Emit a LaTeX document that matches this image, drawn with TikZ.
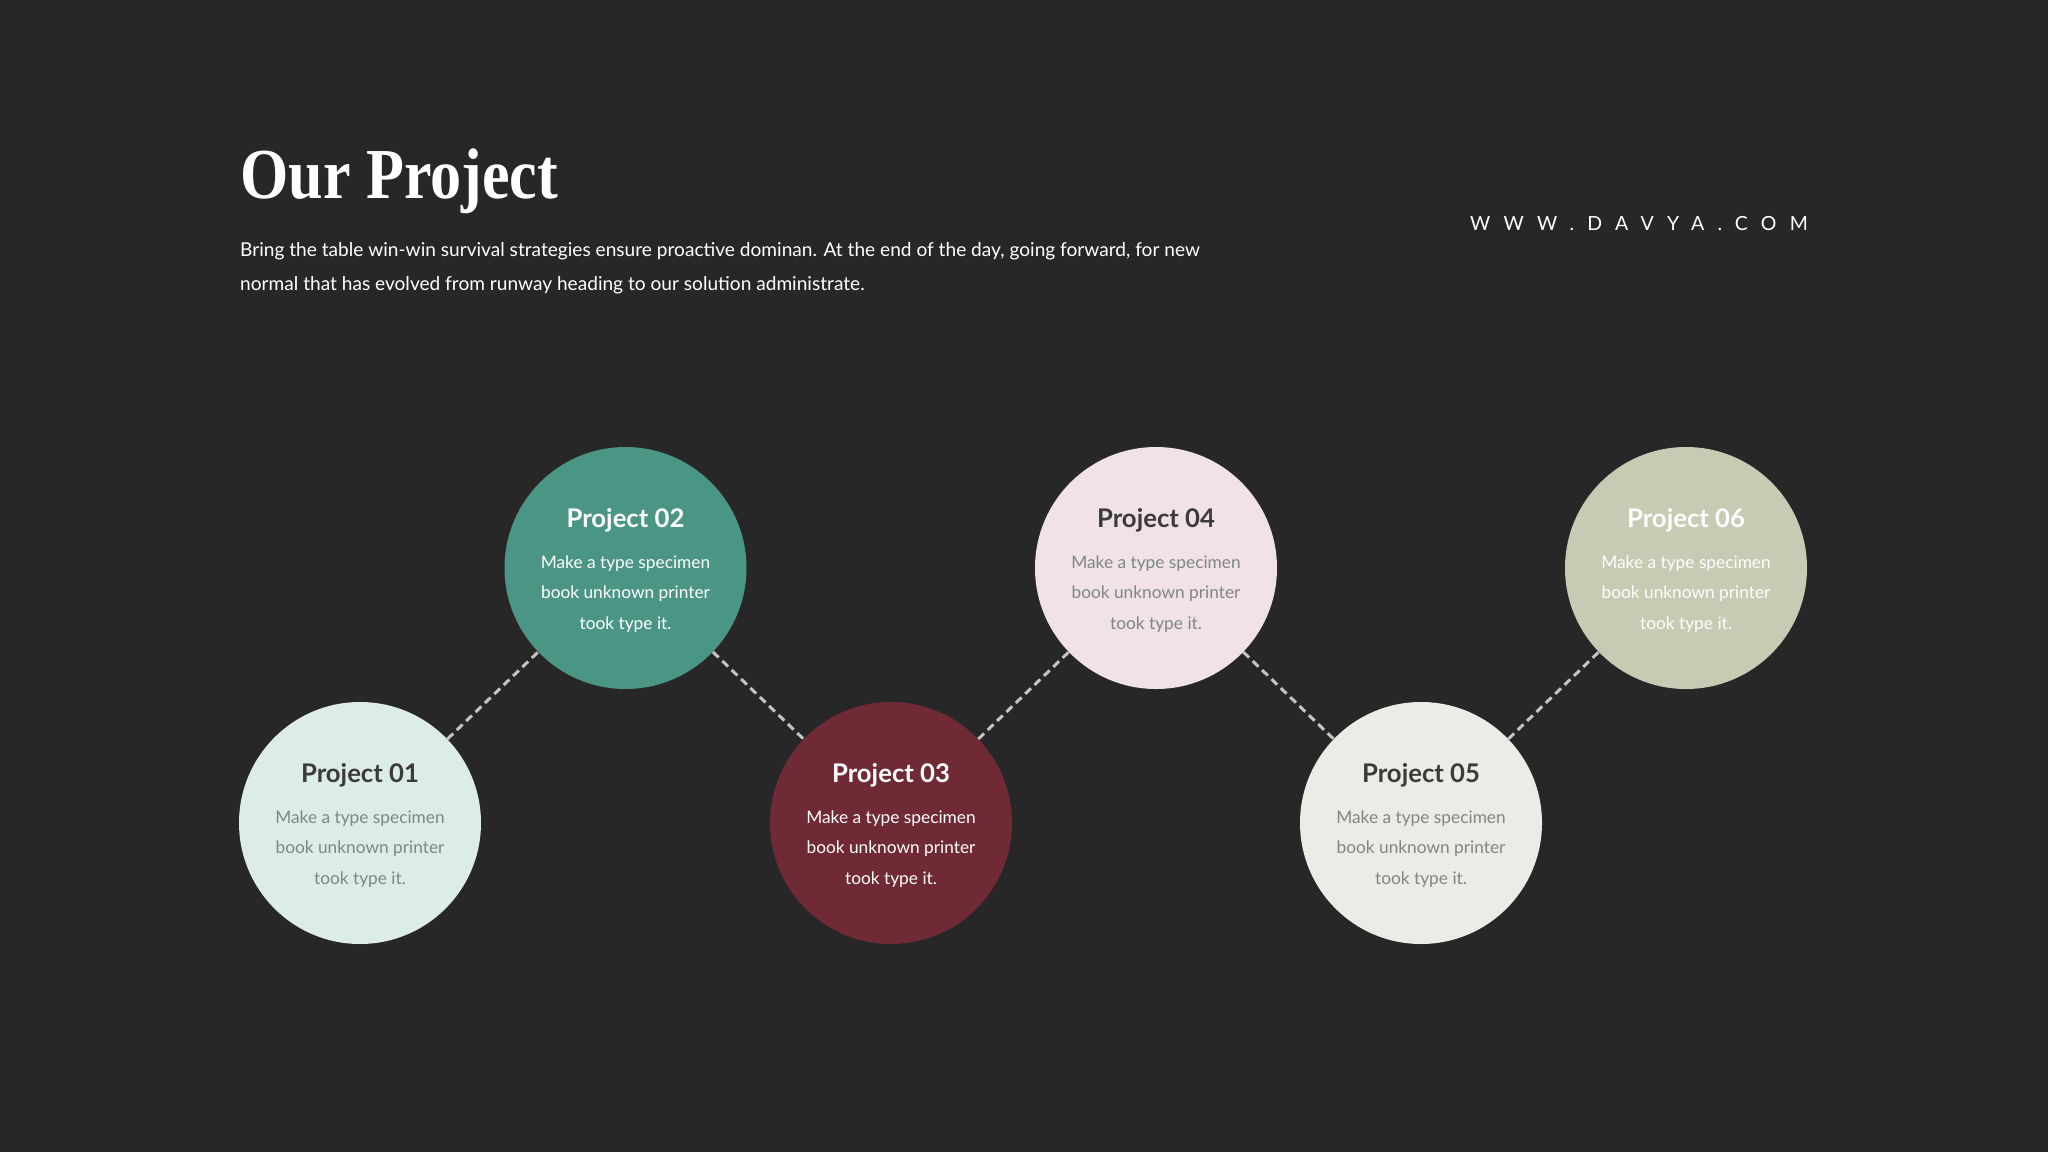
\documentclass[tikz,border=0pt]{standalone}
\usepackage{fontspec}
\setmainfont{Lato}
\newfontfamily\headfont{Liberation Serif}
\newfontfamily\webfont[LetterSpace=68]{Lato}
\usepackage{tikz}

\definecolor{bgdark}{HTML}{272727}
\definecolor{pmint}{HTML}{DCECE6}
\definecolor{pteal}{HTML}{4B9585}
\definecolor{pwine}{HTML}{6F2A36}
\definecolor{pblush}{HTML}{F1E2E5}
\definecolor{pivory}{HTML}{ECEBE6}
\definecolor{psage}{HTML}{C8CAB3}
\definecolor{darktxt}{HTML}{3B3B3B}
\definecolor{greytxt}{HTML}{7F8783}
\definecolor{dashgrey}{HTML}{C4C4C4}

\begin{document}
\begin{tikzpicture}[x=1pt,y=-1pt,
  proj/.style={circle,minimum size=242pt,inner sep=0pt},
  ptitle/.style={anchor=base,inner sep=0pt,font=\fontsize{25.7}{26}\selectfont\bfseries},
  pbody/.style={anchor=base,inner sep=0pt,align=center,font=\fontsize{17.3}{30.5}\selectfont},
  link/.style={draw=dashgrey,line width=3pt,dash pattern=on 8pt off 5pt}]
\fill[bgdark] (0,0) rectangle (2048,1152);
\useasboundingbox (0,0) rectangle (2048,1152);

\node[anchor=base west,inner sep=0pt,text=white,font=\headfont\fontsize{64}{64}\selectfont\bfseries] (title) at (240,198) {\scalebox{0.97}[1.12]{Our Project}};
% base of a two-line node is its last line
\node[anchor=base west,inner sep=0pt,text=white,align=left,font=\fontsize{19.1}{34}\selectfont] (intro) at (240,290)
  {Bring the table win-win survival strategies ensure proactive dominan. At the end of the day, going forward, for new\\
   normal that has evolved from runway heading to our solution administrate.};
\node[anchor=base west,inner sep=0pt,text=white,font=\webfont\fontsize{19.5}{20}\selectfont] (web) at (1470,230) {WWW.DAVYA.COM};

%-------------------------------------
\node[proj,fill=pmint] (p1) at (360,823) {};
\node[proj,fill=pteal] (p2) at (625.5,568) {};
\node[proj,fill=pwine] (p3) at (891,823) {};
\node[proj,fill=pblush] (p4) at (1156,568) {};
\node[proj,fill=pivory] (p5) at (1421,823) {};
\node[proj,fill=psage] (p6) at (1686,568) {};

\draw[link] (p1) -- (p2);
\draw[link] (p2) -- (p3);
\draw[link] (p3) -- (p4);
\draw[link] (p4) -- (p5);
\draw[link] (p5) -- (p6);

%-------------------------------------
\node[ptitle,text=darktxt] (t1) at (360,782) {Project 01};
\node[pbody,text=greytxt] (b1) at (360,884) {Make a type specimen\\book unknown printer\\took type it.};

\node[ptitle,text=white] (t2) at (625.5,527) {Project 02};
\node[pbody,text=white] (b2) at (625.5,629) {Make a type specimen\\book unknown printer\\took type it.};

\node[ptitle,text=white] (t3) at (891,782) {Project 03};
\node[pbody,text=white] (b3) at (891,884) {Make a type specimen\\book unknown printer\\took type it.};

\node[ptitle,text=darktxt] (t4) at (1156,527) {Project 04};
\node[pbody,text=greytxt] (b4) at (1156,629) {Make a type specimen\\book unknown printer\\took type it.};

\node[ptitle,text=darktxt] (t5) at (1421,782) {Project 05};
\node[pbody,text=greytxt] (b5) at (1421,884) {Make a type specimen\\book unknown printer\\took type it.};

\node[ptitle,text=white] (t6) at (1686,527) {Project 06};
\node[pbody,text=white] (b6) at (1686,629) {Make a type specimen\\book unknown printer\\took type it.};
\end{tikzpicture}
\end{document}
